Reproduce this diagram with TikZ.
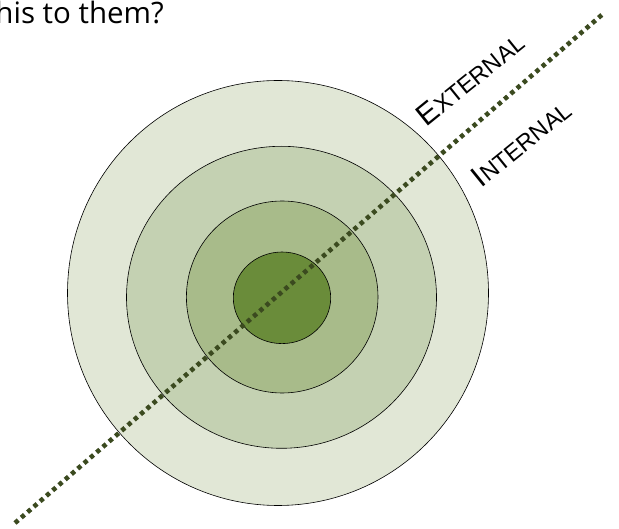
\documentclass[tikz,border=0pt]{standalone}
\usepackage{fontspec}
\setmainfont{Liberation Sans}
\newfontfamily\topfont{Open Sans}
\definecolor{ringA}{HTML}{E1E7D6}
\definecolor{ringB}{HTML}{C4D1B2}
\definecolor{ringC}{HTML}{A8BB8A}
\definecolor{ringD}{HTML}{6A8C3A}
\definecolor{dotline}{HTML}{3B4A1F}
\tikzset{
  ring/.style={draw=black, line width=0.6pt},
  divider/.style={draw=dotline, line width=4.6pt, dash pattern=on 4.3pt off 4pt},
  sidelabel/.style={rotate=39, inner sep=0pt, text=black},
}
\newcommand{\capbig}[1]{{\fontsize{30}{32}\selectfont #1}}
\newcommand{\capsmall}[1]{{\fontsize{23.5}{25}\selectfont #1}}
\begin{document}
\begin{tikzpicture}[x=1pt, y=-1pt]
\useasboundingbox (0,0) rectangle (619,529);
\clip (0,0) rectangle (619,529);
\node[anchor=base east, inner sep=0pt, font=\topfont\fontsize{29.5}{32}\selectfont] (question) at (164,24) {this to them?};
\filldraw[ring, fill=ringA] (278,293) ellipse [x radius=210.5, y radius=212.5];
\filldraw[ring, fill=ringB] (281.5,297.3) ellipse [x radius=155, y radius=151];
\filldraw[ring, fill=ringC] (282.2,297) ellipse [x radius=95.8, y radius=96];
\filldraw[ring, fill=ringD] (282,297.8) ellipse [x radius=48.7, y radius=45.8];
\coordinate (lineStart) at (15,523);
\coordinate (lineEnd) at (604,13);
\draw[divider] (lineStart) -- (lineEnd);
\node[sidelabel] (external) at (470,79) {\capbig{E}\capsmall{XTERNAL}};
\node[sidelabel] (internal) at (521,143) {\capbig{I}\capsmall{NTERNAL}};
\end{tikzpicture}
\end{document}
